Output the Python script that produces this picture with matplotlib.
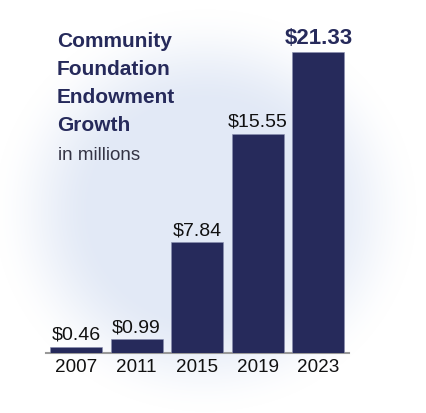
import matplotlib
matplotlib.use("Agg")
import matplotlib.pyplot as plt
import numpy as np
from matplotlib.colors import LinearSegmentedColormap

years = ["2007", "2011", "2015", "2019", "2023"]
values = [0.46, 0.99, 7.84, 15.55, 21.33]
labels = ["$0.46", "$0.99", "$7.84", "$15.55", "$21.33"]

NAVY = "#262a5b"
W, H = 426, 413

plt.rcParams["font.family"] = ["Liberation Sans", "DejaVu Sans"]

fig = plt.figure(figsize=(W / 100, H / 100), dpi=100)

# soft radial glow behind the chart
bg = fig.add_axes([0, 0, 1, 1])
yy, xx = np.mgrid[0:H, 0:W]
r = np.sqrt(((xx - 205) / 215.0) ** 2 + ((yy - 210) / 205.0) ** 2)
t = np.clip((1.0 - r) / 0.5, 0, 1)
glow = t * t * (3 - 2 * t)
cmap = LinearSegmentedColormap.from_list("glow", ["#ffffff", "#e2e9f6"])
bg.imshow(glow, cmap=cmap, vmin=0, vmax=1, aspect="auto", extent=[0, W, H, 0])
bg.set_axis_off()

ax = fig.add_axes([45.7 / W, 60 / H, 303 / W, 313 / H])
ax.patch.set_alpha(0)
x = np.arange(len(years))
ax.bar(x, values, width=0.86, color=NAVY, edgecolor="#8a8fb0", linewidth=0.4, zorder=3)
ax.set_xlim(-0.5, 4.5)
ax.set_ylim(0, 313 / 14.1)

for i, (v, lab) in enumerate(zip(values, labels)):
    if i == len(values) - 1:
        ax.annotate(lab, (i, v), xytext=(0, 2), textcoords="offset points",
                    ha="center", va="bottom", fontsize=16, fontweight="bold", color=NAVY)
    else:
        ax.annotate(lab, (i, v), xytext=(0, 2), textcoords="offset points",
                    ha="center", va="bottom", fontsize=14, color="#111111")

ax.set_xticks(x)
ax.set_xticklabels(years, fontsize=13.6, color="#111111")
ax.tick_params(axis="x", length=0, pad=4)
ax.set_yticks([])
for s in ["top", "right", "left"]:
    ax.spines[s].set_visible(False)
ax.spines["bottom"].set_color("#999999")
ax.spines["bottom"].set_linewidth(1.5)

title_lines = ["Community", "Foundation", "Endowment", "Growth"]
for k, line in enumerate(title_lines):
    fig.text(57 / W, 1 - (47 + k * 28) / H, line, fontsize=15, fontweight="bold",
             color=NAVY, va="baseline", ha="left")
fig.text(58 / W, 1 - 160 / H, "in millions", fontsize=13.5, color="#333344",
         va="baseline", ha="left")

fig.savefig("out.png", dpi=100)
